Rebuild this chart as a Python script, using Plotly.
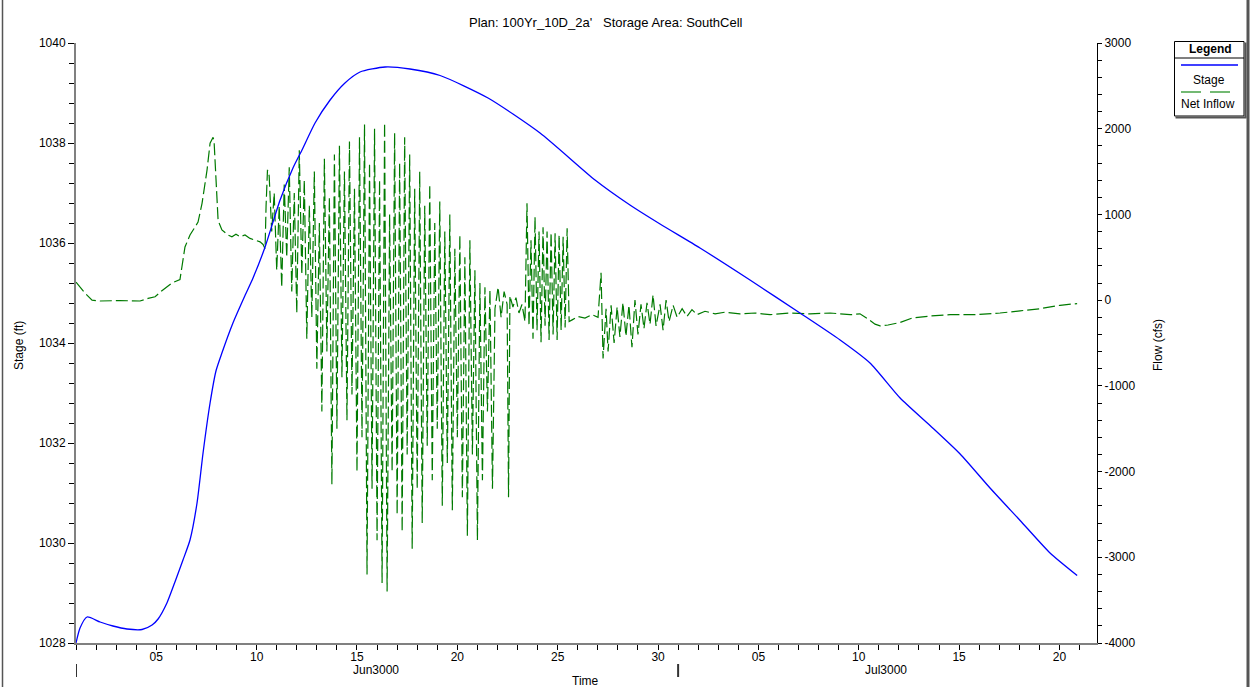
import datetime as dt
import plotly.graph_objects as go

START = dt.datetime(3000, 6, 1)

# ---------------- data (days after 01Jun3000 00:00) ----------------
stage_day = [0, 0.2, 0.55, 1.2, 1.84, 2.54, 3.29, 3.79, 4.09, 4.53, 4.93, 5.33, 5.68,
             6.03, 6.33, 6.68, 6.98, 7.27, 7.82, 8.42, 8.82, 9.42, 10.16, 10.81, 11.26,
             11.91, 12.66, 13.4, 14.15, 15.4, 16.64, 18.14, 20.53, 23.12, 25.86, 27.6,
             29.1, 31.09, 33.58, 36.07, 38.07, 39.56, 41.06, 42.55, 44.05, 45.54, 47.04,
             48.53, 49.88]
stage_ft = [1028.0, 1028.3, 1028.52, 1028.42, 1028.34, 1028.28, 1028.27, 1028.36, 1028.48,
            1028.8, 1029.22, 1029.66, 1030.06, 1030.8, 1031.8, 1032.8, 1033.45, 1033.8,
            1034.4, 1034.95, 1035.3, 1035.92, 1036.85, 1037.5, 1037.86, 1038.4, 1038.86,
            1039.2, 1039.42, 1039.52, 1039.48, 1039.35, 1038.9, 1038.2, 1037.26, 1036.76,
            1036.38, 1035.9, 1035.26, 1034.6, 1034.06, 1033.6, 1032.9, 1032.35, 1031.78,
            1031.1, 1030.45, 1029.8, 1029.35]

pre_flow_day = [0, 0.2, 0.45, 0.8, 1.2, 2.19, 3.19, 3.59, 3.94, 4.28, 4.78, 5.18, 5.28, 5.43,
                5.68, 6.08, 6.28, 6.53, 6.68, 6.83, 6.88, 6.98, 7.03, 7.08, 7.27, 7.42, 7.57,
                7.77, 7.97, 8.17, 8.42, 8.67, 8.92, 9.17, 9.32, 9.42, 9.47, 9.54]
pre_flow_cfs = [210, 150, 80, 0, -10, -5, -10, 20, 40, 110, 200, 240, 390, 620, 760, 910,
                1130, 1520, 1830, 1900, 1850, 1300, 1130, 930, 820, 790, 760, 740, 770, 740,
                760, 720, 700, 680, 650, 600, 1100, 1520]

burst_start_day = 9.625
burst_step_day = 0.125
burst_flow_cfs = [1450, 800, 1250, 350, 1100, 150, 1350, 500, 1550, 100, 1250, -150, 1750,
                  300, 1400, -450, 1100, -200, 1500, -800, 900, -1300, 1650, -600, 1200,
                  -2150, 1700, -1500, 1800, -900, 1500, -1400, 1850, -1100, 1300, -2000,
                  1900, -1600, 2050, -3200, 1600, -2200, 2000, -2800, 1400, -3300, 2070,
                  -3400, 1000, -2000, 1950, -2500, 1600, -2700, 1900, -1800, 1700, -2900,
                  1300, -2200, 1500, -2600, 1100, -1700, 1350, -2100, 900, -1500, 1150,
                  -2400, 800, -1900, 1000, -2450, 600, -1600, 760, -2300, 500, -2750, 700,
                  -1800, 350, -2800, 200, -2100, 150, -1300, 120, -2200, -100]

post_flow_day = [21.03, 21.18, 21.33, 21.48, 21.55, 21.62, 21.77, 21.92, 22.07, 22.22, 22.37,
                 22.47, 22.57, 22.67, 22.77, 22.87, 22.97, 23.07, 23.17, 23.27, 23.37, 23.47,
                 23.57, 23.67, 23.77, 23.87, 23.97, 24.07, 24.17, 24.27, 24.37, 24.47, 24.57,
                 24.72, 25.01, 25.36, 25.71, 26.01, 26.16, 26.26, 26.41, 26.51, 26.66, 26.81,
                 26.96, 27.1, 27.25, 27.4, 27.55, 27.7, 27.85, 28.0, 28.15, 28.3, 28.45,
                 28.6, 28.75, 28.9, 29.1, 29.25, 29.4, 29.55, 29.75, 29.95, 30.2, 30.44,
                 30.69, 30.94, 31.34, 31.84, 32.34, 33.08, 33.83, 34.58, 35.58, 36.57,
                 37.57, 38.57, 39.06, 39.46, 39.81, 40.06, 40.46, 41.06, 41.65, 42.55,
                 43.55, 44.79, 46.04, 47.04, 48.03, 49.03, 49.88]
post_flow_cfs = [150, -200, 100, -50, -2300, 50, -80, 30, -150, -50, -250, 1130, -300, 700,
                 -450, 970, -350, 800, -490, 850, -300, 800, -465, 790, -400, 780, -465, 760,
                 -350, 740, -320, 840, -250, -230, -190, -210, -170, -200, 320, -680, -100,
                 -600, -60, -500, -80, -430, -30, -420, -60, -550, 0, -400, -50, -330, -30,
                 -280, 60, -300, -50, -350, 0, -250, -60, -200, -100, -190, -110, -170, -130,
                 -160, -140, -160, -150, -170, -150, -160, -150, -170, -160, -220, -280, -300,
                 -290, -260, -210, -185, -170, -170, -150, -125, -100, -60, -40]

x_tick_days = [4, 9, 14, 19, 24, 29, 34, 39, 44, 49]
x_tick_labels = ["05", "10", "15", "20", "25", "30", "05", "10", "15", "20"]
month_labels = ["Jun3000", "Jul3000"]
month_start_days = [0, 30]

stage_ticks = [1028, 1030, 1032, 1034, 1036, 1038, 1040]
flow_ticks = [-4000, -3000, -2000, -1000, 0, 1000, 2000, 3000]
flow_tick_labels = ["-4000", "-3000", "-2000", "-1000", "0", "1000", "2000", "3000"]

AXIS_END_DAY = 50.87


def to_date(d):
    return (START + dt.timedelta(days=d)).strftime("%Y-%m-%d %H:%M:%S")


flow_day = (pre_flow_day
            + [burst_start_day + i * burst_step_day for i in range(len(burst_flow_cfs))]
            + post_flow_day)
flow_cfs = pre_flow_cfs + burst_flow_cfs + post_flow_cfs

# ---------------- layout helpers (page pixels -> paper) ----------------
W, H = 1253, 687
L, R, T, B = 76, 156, 43, 44
PW, PH = W - L - R, H - T - B


def px(xp):
    return (xp - L) / PW


def py(yp):
    return (H - B - yp) / PH


FONT = "Liberation Sans, Arial, sans-serif"

fig = go.Figure()
fig.add_trace(go.Scatter(
    x=[to_date(d) for d in flow_day], y=flow_cfs, name="Net Inflow", mode="lines",
    line=dict(color="#007a00", width=1.2, dash="12px,4px"), yaxis="y"))
fig.add_trace(go.Scatter(
    x=[to_date(d) for d in stage_day], y=stage_ft, name="Stage", mode="lines",
    line=dict(color="#0000ff", width=1.3, shape="spline", smoothing=0.6), yaxis="y2"))

tickfont = dict(family=FONT, size=12, color="black")

fig.update_layout(
    width=W, height=H,
    margin=dict(l=L, r=R, t=T, b=B),
    paper_bgcolor="white", plot_bgcolor="white",
    showlegend=False,
    font=dict(family=FONT, size=12, color="black"),
    xaxis=dict(
        type="date", range=[to_date(0), to_date(AXIS_END_DAY)],
        showline=True, linecolor="#808080", linewidth=2, showgrid=False, zeroline=False,
        ticks="outside", ticklen=5, tickcolor="black", tickwidth=1,
        ticklabelstandoff=-3,
        tickvals=[to_date(d) for d in x_tick_days], ticktext=x_tick_labels,
        tickfont=tickfont,
        minor=dict(dtick=86400000, tick0=to_date(0), ticks="outside", ticklen=5,
                   tickcolor="black", showgrid=False),
    ),
    yaxis=dict(
        range=[-4000, 3000], side="right", showline=True, linecolor="black", linewidth=1,
        showgrid=False, zeroline=False, ticks="outside", ticklen=4, tickcolor="black",
        tickvals=flow_ticks, ticktext=flow_tick_labels, tickfont=tickfont,
        minor=dict(dtick=200, tick0=-4000, ticks="outside", ticklen=4, tickcolor="black",
                   showgrid=False),
    ),
    yaxis2=dict(
        range=[1028, 1040], side="left", overlaying="y", showline=True,
        linecolor="#808080", linewidth=2, showgrid=False, zeroline=False,
        ticks="outside", ticklen=6, tickcolor="black",
        tickvals=stage_ticks, ticktext=[str(v) for v in stage_ticks], tickfont=tickfont,
        minor=dict(dtick=0.4, tick0=1028, ticks="outside", ticklen=5, tickcolor="black",
                   showgrid=False),
    ),
)


def label(text, xp, yp, size=12, angle=0):
    return dict(text=text, x=px(xp), y=py(yp), xref="paper", yref="paper",
                xanchor="center", yanchor="middle", showarrow=False, textangle=angle,
                font=dict(family=FONT, size=size, color="black"))


annotations = [
    label("Plan: 100Yr_10D_2a'\u00a0\u00a0\u00a0Storage Area: SouthCell", 606, 22, 13),
    label("Stage (ft)", 19, 346, 12, -90),
    label("Flow (cfs)", 1158, 345, 12, -90),
    label("Time", 585, 681),
    label(month_labels[0], 376, 670),
    label(month_labels[1], 886, 670),
    label("<b>Legend</b>", 1210, 49),
    label("Stage", 1209, 80),
    label("Net Inflow", 1208, 104),
]
fig.update_layout(annotations=annotations)

shapes = []
# month start markers below the axis
for d in month_start_days:
    shapes.append(dict(type="line", xref="x", yref="paper", x0=to_date(d), x1=to_date(d),
                       y0=py(664), y1=py(677), line=dict(color="#333333", width=2)))
# outer frame (left/right edges)
shapes.append(dict(type="line", xref="paper", yref="paper", x0=px(2.5), x1=px(2.5),
                   y0=py(-5), y1=py(692), line=dict(color="#555555", width=1.5)))
shapes.append(dict(type="line", xref="paper", yref="paper", x0=px(1248), x1=px(1248),
                   y0=py(-5), y1=py(692), line=dict(color="#555555", width=3)))
# legend box
shapes.append(dict(type="rect", xref="paper", yref="paper", x0=px(1174.5), x1=px(1244),
                   y0=py(116), y1=py(41.5), line=dict(color="black", width=1),
                   fillcolor="white", layer="below"))
shapes.append(dict(type="line", xref="paper", yref="paper", x0=px(1245.5), x1=px(1245.5),
                   y0=py(42.5), y1=py(117.5), line=dict(color="#555555", width=2)))
shapes.append(dict(type="line", xref="paper", yref="paper", x0=px(1175.5), x1=px(1246.5),
                   y0=py(117.5), y1=py(117.5), line=dict(color="#555555", width=2)))
shapes.append(dict(type="line", xref="paper", yref="paper", x0=px(1174.5), x1=px(1244),
                   y0=py(58), y1=py(58), line=dict(color="black", width=1)))
shapes.append(dict(type="line", xref="paper", yref="paper", x0=px(1181), x1=px(1238),
                   y0=py(65), y1=py(65), line=dict(color="#0000ff", width=1.3)))
shapes.append(dict(type="line", xref="paper", yref="paper", x0=px(1181), x1=px(1201),
                   y0=py(92), y1=py(92), line=dict(color="#008000", width=1.1)))
shapes.append(dict(type="line", xref="paper", yref="paper", x0=px(1210), x1=px(1230),
                   y0=py(92), y1=py(92), line=dict(color="#008000", width=1.1)))
fig.update_layout(shapes=shapes)

fig.write_html("out.html", config={"displayModeBar": False},
               post_script="document.body.style.margin='0';")
